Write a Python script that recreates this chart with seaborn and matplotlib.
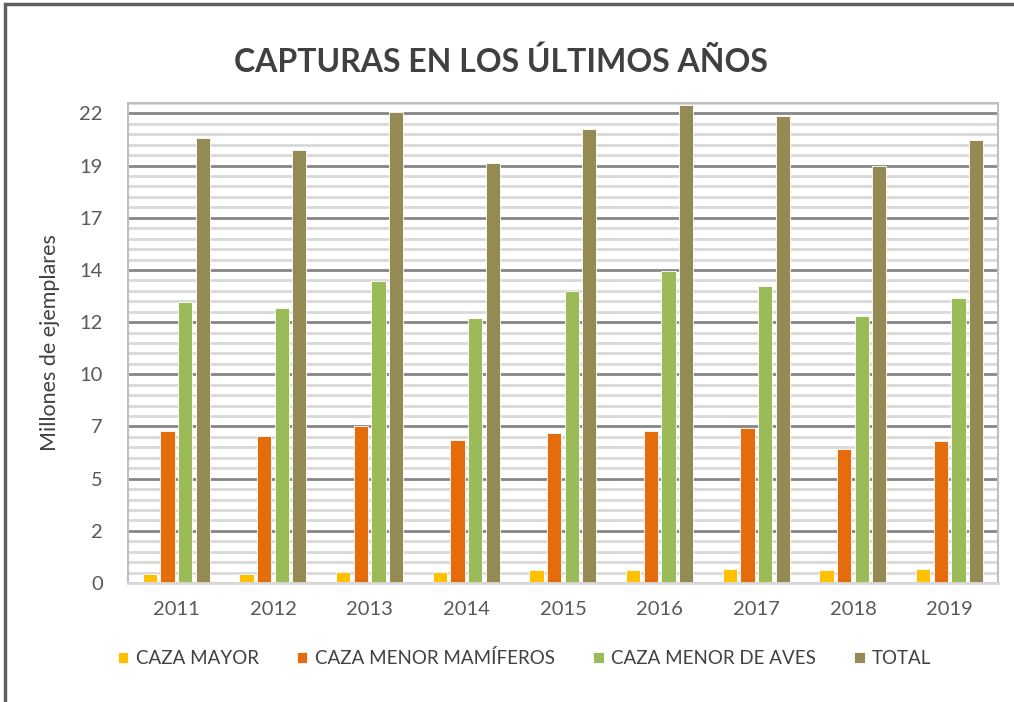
import pandas as pd
import seaborn as sns
import matplotlib.pyplot as plt
from matplotlib.ticker import MultipleLocator
from matplotlib.patches import Rectangle

years = ["2011", "2012", "2013", "2014", "2015", "2016", "2017", "2018", "2019"]
caza_mayor = [0.43, 0.43, 0.49, 0.49, 0.60, 0.60, 0.64, 0.60, 0.64]
caza_menor_mamiferos = [7.00, 6.77, 7.23, 6.59, 6.88, 7.00, 7.14, 6.18, 6.53]
caza_menor_aves = [12.94, 12.65, 13.88, 12.17, 13.41, 14.34, 13.64, 12.29, 13.10]
total = [20.45, 19.91, 21.66, 19.31, 20.90, 22.00, 21.49, 19.19, 20.38]
series = ["CAZA MAYOR", "CAZA MENOR MAMÍFEROS", "CAZA MENOR DE AVES", "TOTAL"]
colors = ["#FFC000", "#E46C0A", "#9BBB59", "#948A54"]
y_ticks = [0, 2.4, 4.8, 7.2, 9.6, 12.0, 14.4, 16.8, 19.2, 21.6]
y_labels = ["0", "2", "5", "7", "10", "12", "14", "17", "19", "22"]

# long form table for seaborn
df = pd.DataFrame({"year": years, series[0]: caza_mayor, series[1]: caza_menor_mamiferos,
                   series[2]: caza_menor_aves, series[3]: total})
df = df.melt(id_vars="year", var_name="serie", value_name="valor")

sns.set_style("white")
plt.rcParams["font.family"] = ["Lato", "DejaVu Sans"]

fig = plt.figure(figsize=(10.14, 7.02), dpi=100)
ax = fig.add_axes([0.1262, 0.1695, 0.8580, 0.6838])

sns.barplot(data=df, x="year", y="valor", hue="serie", hue_order=series,
            palette=colors, saturation=1, width=0.73, gap=0.2, edgecolor="white",
            linewidth=0.6, ax=ax, legend=True)

ax.set_ylim(0, 22.08)
ax.set_yticks(y_ticks)
ax.set_yticklabels(y_labels)
ax.yaxis.set_minor_locator(MultipleLocator(0.48))
ax.grid(which="minor", axis="y", color="#D9D9D9", lw=2)
ax.grid(which="major", axis="y", color="#868686", lw=2)
ax.set_axisbelow(True)
ax.tick_params(which="both", length=0)
ax.tick_params(axis="y", pad=18, labelsize=14.5, labelcolor="#595959")
ax.tick_params(axis="x", pad=13, labelsize=14.5, labelcolor="#595959")

for side in ["left", "top", "right"]:
    ax.spines[side].set_color("#BFBFBF")
    ax.spines[side].set_linewidth(1.5)
ax.spines["bottom"].set_color("#D9D9D9")
ax.spines["bottom"].set_linewidth(2)

ax.set_xlabel("")
ax.set_ylabel("Millones de ejemplares", fontsize=15.5, color="#404040", labelpad=14)

ax.legend(loc="center", bbox_to_anchor=(0.456, -0.156), ncol=4, frameon=False,
          handlelength=0.55, handleheight=0.55, handletextpad=0.4, columnspacing=2.05,
          prop={"size": 13.5}, labelcolor="#404040")

fig.text(0.494, 0.912, "CAPTURAS EN LOS ÚLTIMOS AÑOS", ha="center", va="center",
         fontsize=23, fontweight="bold", color="#404040")

# outer chart border (only top and left visible in the crop)
fig.patches.append(Rectangle((5 / 1014, -0.05), 1.2, 1.05 - 4 / 702, transform=fig.transFigure,
                             fill=False, edgecolor="#5F5F5F", lw=2.5))

fig.savefig("out.png", dpi=100)
